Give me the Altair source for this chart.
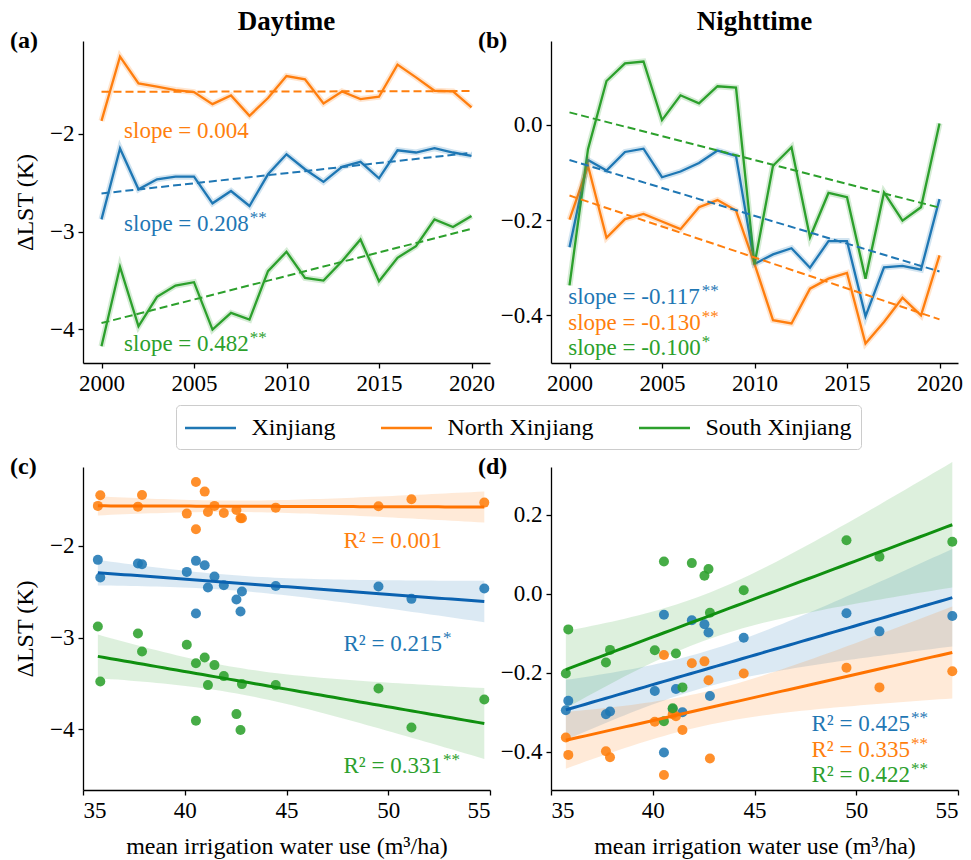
import altair as alt
import numpy as np
import pandas as pd

FONT = "Liberation Serif"

regions = ["Xinjiang", "North Xinjiang", "South Xinjiang"]
palette = ["#1f77b4", "#ff7f0e", "#2ca02c"]
fit_palette = ["#0b62b0", "#ff7300", "#109010"]

years = list(range(2000, 2021))

# Annual mean ΔLST, daytime
day_xj = [-2.875, -2.150, -2.568, -2.465, -2.438, -2.438, -2.711, -2.585, -2.738, -2.414, -2.209,
          -2.362, -2.492, -2.338, -2.287, -2.455, -2.168, -2.191, -2.147, -2.191, -2.226]
day_north = [-1.867, -1.210, -1.484, -1.518, -1.552, -1.573, -1.696, -1.607, -1.815, -1.634, -1.409,
             -1.443, -1.689, -1.566, -1.644, -1.620, -1.292, -1.422, -1.559, -1.566, -1.730]
day_south = [-4.174, -3.361, -3.969, -3.668, -3.552, -3.518, -4.003, -3.832, -3.901, -3.405, -3.207,
             -3.474, -3.501, -3.303, -3.081, -3.508, -3.268, -3.149, -2.875, -2.954, -2.841]

# Annual mean ΔLST, nighttime
night_xj = [-0.257, -0.074, -0.096, -0.057, -0.050, -0.110, -0.098, -0.080, -0.054, -0.065, -0.292,
            -0.272, -0.259, -0.300, -0.244, -0.244, -0.402, -0.299, -0.296, -0.304, -0.156]
night_north = [-0.199, -0.086, -0.237, -0.198, -0.187, -0.203, -0.219, -0.173, -0.158, -0.180, -0.292,
               -0.410, -0.417, -0.344, -0.323, -0.311, -0.459, -0.414, -0.363, -0.400, -0.274]
night_south = [-0.337, -0.051, 0.092, 0.129, 0.133, 0.010, 0.062, 0.045, 0.081, 0.078, -0.293,
               -0.086, -0.047, -0.236, -0.143, -0.152, -0.323, -0.142, -0.201, -0.173, 0.003]

# Trend slopes (K per decade) and significance marks
day_slopes = [0.208, 0.004, 0.482]
day_sig = ["**", "", "**"]
night_slopes = [-0.117, -0.130, -0.100]
night_sig = ["**", "**", "*"]

# Mean irrigation water use per year (m3/ha)
irrigation = [35.73, 35.85, 37.70, 37.90, 40.10, 40.55, 40.55, 40.98, 41.14, 41.46, 41.92, 42.54,
              42.74, 42.81, 44.47, 49.52, 51.14, 54.72]

sc_day_xj = [-2.152, -2.345, -2.192, -2.200, -2.283, -2.163, -2.737, -2.211, -2.454, -2.334, -2.428,
             -2.584, -2.715, -2.497, -2.436, -2.443, -2.577, -2.465]
sc_day_north = [-1.564, -1.448, -1.572, -1.445, -1.648, -1.303, -1.818, -1.408, -1.630, -1.564, -1.641,
                -1.608, -1.699, -1.699, -1.583, -1.568, -1.492, -1.528]
sc_day_south = [-2.878, -3.477, -2.955, -3.151, -3.078, -3.278, -3.906, -3.216, -3.517, -3.299, -3.419,
                -3.833, -4.007, -3.506, -3.517, -3.554, -3.978, -3.673]

sc_night_xj = [-0.295, -0.271, -0.305, -0.298, -0.246, -0.053, -0.402, -0.292, -0.241, -0.300, -0.067,
               -0.077, -0.098, -0.259, -0.111, -0.049, -0.095, -0.056]
sc_night_north = [-0.364, -0.408, -0.399, -0.414, -0.324, -0.155, -0.459, -0.305, -0.310, -0.345, -0.176,
                  -0.171, -0.219, -0.417, -0.202, -0.187, -0.237, -0.196]
sc_night_south = [-0.202, -0.090, -0.174, -0.142, -0.143, 0.082, -0.323, -0.290, -0.151, -0.237, 0.078,
                  0.046, 0.063, -0.048, 0.009, 0.136, 0.094, 0.132]

day_r2 = ["0.215", "0.001", "0.331"]
day_r2_sig = ["*", "", "**"]
night_r2 = ["0.425", "0.335", "0.422"]
night_r2_sig = ["**", "**", "**"]

PLOT_W, PLOT_H = 407, 322

# Approximate Times advance widths (em) used to place superscript stars
CHAR_EM = {"s": .389, "l": .278, "o": .5, "p": .5, "e": .444, " ": .25, "=": .564, ".": .25,
           "-": .333, "R": .667, "²": .3}
LABEL_SIZE = 23
STAR_SIZE = 17


def text_width(s, size=LABEL_SIZE):
    return sum(CHAR_EM.get(c, .5) for c in s) * size


def annotation_layers(labels, stars, xs, ys):
    layers = []
    for lab, st, col, x, y in zip(labels, stars, palette, xs, ys):
        d = pd.DataFrame({"x": [x], "y": [y], "t": [lab], "s": [st]})
        base = alt.Chart(d).encode(x="x:Q", y="y:Q")
        layers.append(base.mark_text(align="left", baseline="alphabetic", font=FONT,
                                     fontSize=LABEL_SIZE, color=col).encode(text="t:N"))
        if st:
            layers.append(base.mark_text(align="left", baseline="alphabetic", font=FONT,
                                         fontSize=STAR_SIZE, color=col, dx=text_width(lab) + 1,
                                         dy=-8).encode(text="s:N"))
    return layers


def label_layer(text, x, y, size, align="left"):
    d = pd.DataFrame({"t": [text]})
    return alt.Chart(d).mark_text(align=align, baseline="alphabetic", font=FONT, fontSize=size,
                                  fontWeight="bold", color="black").encode(
        x=alt.value(x), y=alt.value(y), text="t:N")


def axis(values, fmt, title):
    kw = dict(values=values, format=fmt, labelFont=FONT, titleFont=FONT, labelFontSize=23,
              titleFontSize=24, titleFontWeight="normal")
    kw["title"] = title
    return alt.Axis(**kw)


legend = alt.Legend(
    orient="none", legendX=93, legendY=364, direction="horizontal", title=None,
    symbolType="M-2,0H2", symbolSize=650, symbolStrokeWidth=2.5, symbolOffset=11.5,
    symbolOpacity=1, labelOffset=27, labelFont=FONT, labelFontSize=24, labelColor="black",
    columnPadding=40, padding=9, strokeColor="#cccccc", fillColor="white", cornerRadius=4,
)


def series_panel(values, slopes, sig, title, ydomain, yticks, yfmt, ytitle, tag, ann_x, ann_y):
    rows, trows = [], []
    xm = float(np.mean(years))
    for r, vals, s in zip(regions, values, slopes):
        for yr, v in zip(years, vals):
            rows.append({"year": yr, "region": r, "dlst": v})
        ym = float(np.mean(vals))
        for yr in (2000, 2020):
            trows.append({"year": yr, "region": r, "dlst": ym + s / 10 * (yr - xm)})
    df = pd.DataFrame(rows)
    tdf = pd.DataFrame(trows)

    x = alt.X("year:Q", scale=alt.Scale(domain=[1999, 2021], nice=False, zero=False),
              axis=axis([2000, 2005, 2010, 2015, 2020], "d", None))
    y = alt.Y("dlst:Q", scale=alt.Scale(domain=ydomain, nice=False, zero=False),
              axis=axis(yticks, yfmt, ytitle))
    color = alt.Color("region:N", scale=alt.Scale(domain=regions, range=palette), legend=legend)

    main = alt.Chart(df).mark_line(strokeWidth=2.3).encode(x=x, y=y, color=color)
    halo = alt.Chart(df).mark_line(strokeWidth=6, opacity=0.2).encode(x=x, y=y, color=color)
    trend = alt.Chart(tdf).mark_line(strokeWidth=2, strokeDash=[8, 4]).encode(x=x, y=y, color=color)

    labels = [f"slope = {s:.3f}" for s in slopes]
    layers = ([main, halo, trend] + annotation_layers(labels, sig, ann_x, ann_y)
              + [label_layer(tag, -73, 7, 24), label_layer(title, PLOT_W / 2, -11, 27, "center")])
    return alt.layer(*layers).properties(width=PLOT_W, height=PLOT_H)


def scatter_panel(values, r2, sig, ydomain, yticks, yfmt, ytitle, tag, ann_x, ann_y):
    rows, frows = [], []
    xi = np.array(irrigation)
    n = len(xi)
    grid = np.linspace(xi.min(), xi.max(), 60)
    t_crit = 2.12  # two-sided 95 %, n - 2 = 16 degrees of freedom
    for r, vals in zip(regions, values):
        yv = np.array(vals)
        for a, b in zip(xi, yv):
            rows.append({"irr": a, "region": r, "dlst": b})
        slope, icpt = np.polyfit(xi, yv, 1)
        resid = yv - (slope * xi + icpt)
        se = np.sqrt(np.sum(resid ** 2) / (n - 2))
        sxx = np.sum((xi - xi.mean()) ** 2)
        for g in grid:
            fit = slope * g + icpt
            half = t_crit * se * np.sqrt(1 / n + (g - xi.mean()) ** 2 / sxx)
            frows.append({"irr": g, "region": r, "fit": fit, "lo": fit - half, "hi": fit + half})
    df = pd.DataFrame(rows)
    fdf = pd.DataFrame(frows)

    x = alt.X("irr:Q", scale=alt.Scale(domain=[35, 55], nice=False, zero=False),
              axis=axis([35, 40, 45, 50, 55], "d", "mean irrigation water use (m³/ha)"))
    yscale = alt.Scale(domain=ydomain, nice=False, zero=False)
    yaxis = axis(yticks, yfmt, ytitle)
    fill = alt.Fill("region:N", scale=alt.Scale(domain=regions, range=palette), legend=None)
    stroke = alt.Stroke("region:N", scale=alt.Scale(domain=regions, range=fit_palette), legend=None)

    band = alt.Chart(fdf).mark_area(opacity=0.16).encode(
        x=x, y=alt.Y("lo:Q", scale=yscale, axis=yaxis), y2="hi:Q", fill=fill)
    pts = alt.Chart(df).mark_circle(size=100, opacity=0.88).encode(
        x=x, y=alt.Y("dlst:Q", scale=yscale, axis=yaxis), fill=fill)
    line = alt.Chart(fdf).mark_line(strokeWidth=3).encode(
        x=x, y=alt.Y("fit:Q", scale=yscale, axis=yaxis), stroke=stroke)

    labels = ["R² = " + v for v in r2]
    layers = ([band, pts, line] + annotation_layers(labels, sig, ann_x, ann_y)
              + [label_layer(tag, -73, 7, 24)])
    return alt.layer(*layers).properties(width=PLOT_W, height=323)


pa = series_panel([day_xj, day_north, day_south], day_slopes, day_sig, "Daytime",
                  [-4.345, -1.05], [-4, -3, -2], "d", "ΔLST (K)", "(a)",
                  [2001.22] * 3, [-2.995, -2.038, -4.219])
pb = series_panel([night_xj, night_north, night_south], night_slopes, night_sig, "Nighttime",
                  [-0.5, 0.176], [-0.4, -0.2, 0.0], ".1f", None, "(b)",
                  [1999.93] * 3, [-0.3756, -0.430, -0.484])
pc = scatter_panel([sc_day_xj, sc_day_north, sc_day_south], day_r2, day_r2_sig,
                   [-4.66, -1.14], [-4, -3, -2], "d", "ΔLST (K)", "(c)",
                   [47.8] * 3, [-3.143, -2.018, -4.479])
pd_ = scatter_panel([sc_night_xj, sc_night_north, sc_night_south], night_r2, night_r2_sig,
                    [-0.497, 0.3215], [-0.4, -0.2, 0.0, 0.2], ".1f", None, "(d)",
                    [47.8] * 3, [-0.3485, -0.4127, -0.4776])

chart = alt.concat(
    pa, pb, pc, pd_, columns=2, spacing={"row": 104, "column": 61}, bounds="flush"
).properties(
    padding={"left": 10, "top": 8, "right": 5, "bottom": 5}
).configure(
    font=FONT
).configure_axis(
    labelFont=FONT, titleFont=FONT, labelFontSize=23, titleFontSize=24, titleFontWeight="normal",
    labelColor="black", titleColor="black", domainColor="black", tickColor="black",
    domainWidth=1.3, tickWidth=1.3, tickSize=5, labelPadding=4, titlePadding=12, grid=False,
).configure_view(stroke=None)

chart.save("out.html", embed_options={"renderer": "svg", "actions": False})
